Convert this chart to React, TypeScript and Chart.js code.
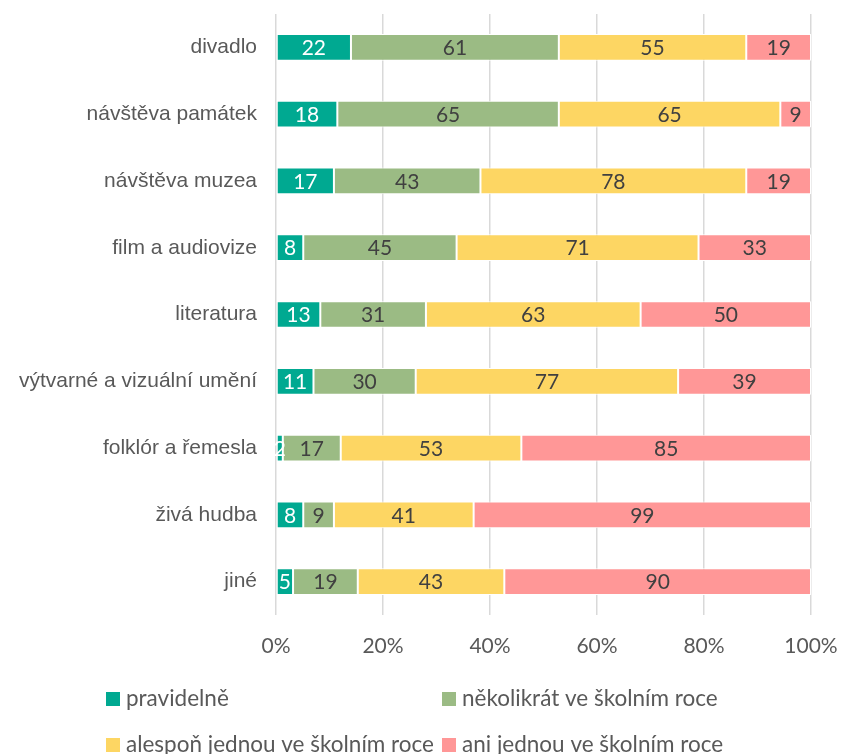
import React, { useEffect, useRef } from "react";
import { Chart, registerables } from "chart.js";

Chart.register(...registerables);

const categories = [
  "divadlo",
  "návštěva památek",
  "návštěva muzea",
  "film a audiovize",
  "literatura",
  "výtvarné a vizuální umění",
  "folklór a řemesla",
  "živá hudba",
  "jiné",
];

const seriesNames = [
  "pravidelně",
  "několikrát ve školním roce",
  "alespoň jednou ve školním roce",
  "ani jednou ve školním roce",
];

const pravidelne = [22, 18, 17, 8, 13, 11, 2, 8, 5];
const nekolikrat = [61, 65, 43, 45, 31, 30, 17, 9, 19];
const alesponJednou = [55, 65, 78, 71, 63, 77, 53, 41, 43];
const aniJednou = [19, 9, 19, 33, 50, 39, 85, 99, 90];

const xTicks = [0, 20, 40, 60, 80, 100];

const colors = ["#00A991", "#9BBB84", "#FDD663", "#FF9797"];
const labelColors = ["#FFFFFF", "#404040", "#404040", "#404040"];

const NUM_FONT = "Lato, 'Open Sans', sans-serif";
const CAT_FONT = "'Liberation Sans', Arial, sans-serif";

export default function App() {
  const ref = useRef<HTMLCanvasElement | null>(null);

  useEffect(() => {
    if (!ref.current) return;
    const raw = [pravidelne, nekolikrat, alesponJednou, aniJednou];
    const totals = categories.map((_, i) => raw.reduce((s, arr) => s + arr[i], 0));
    const pct = raw.map((arr) => arr.map((v, i) => (v / totals[i]) * 100));

    const dataLabelPlugin = {
      id: "dataLabels",
      afterDatasetsDraw(chart: any) {
        const ctx = chart.ctx;
        ctx.save();
        ctx.font = `21px ${NUM_FONT}`;
        ctx.textAlign = "center";
        ctx.textBaseline = "middle";
        chart.data.datasets.forEach((ds: any, di: number) => {
          const meta = chart.getDatasetMeta(di);
          meta.data.forEach((el: any, i: number) => {
            const p = el.getCenterPoint();
            ctx.fillStyle = labelColors[di];
            ctx.fillText(String(raw[di][i]), p.x, p.y + 1);
          });
        });
        ctx.restore();
      },
    };

    const legendPlugin = {
      id: "customLegend",
      afterDraw(chart: any) {
        const ctx = chart.ctx;
        ctx.save();
        ctx.font = `22.5px ${NUM_FONT}`;
        ctx.textAlign = "left";
        ctx.textBaseline = "middle";
        const cols = [106, 442];
        const rows = [699, 745];
        seriesNames.forEach((name, i) => {
          const x = cols[i % 2];
          const y = rows[Math.floor(i / 2)];
          ctx.fillStyle = colors[i];
          ctx.fillRect(x, y - 7, 14, 14);
          ctx.fillStyle = "#595959";
          ctx.fillText(name, x + 20, y);
        });
        ctx.restore();
      },
    };

    const chart = new Chart(ref.current, {
      type: "bar",
      data: {
        labels: categories,
        datasets: seriesNames.map((name, i) => ({
          label: name,
          data: pct[i],
          backgroundColor: colors[i],
          borderColor: "#FFFFFF",
          borderWidth: 1,
          borderSkipped: false,
          categoryPercentage: 1,
          barPercentage: 0.4,
        })),
      },
      options: {
        indexAxis: "y",
        responsive: false,
        animation: false,
        layout: { padding: { top: 14, right: 30, bottom: 0, left: 0 } },
        plugins: {
          legend: { display: false },
          tooltip: { enabled: false },
        },
        scales: {
          x: {
            stacked: true,
            min: 0,
            max: 100,
            afterBuildTicks(scale: any) {
              scale.ticks = xTicks.map((v) => ({ value: v }));
            },
            afterFit(scale: any) {
              scale.height = 139;
              scale.paddingLeft = 0;
              scale.paddingRight = 0;
            },
            grid: {
              color: "#D9D9D9",
              lineWidth: 1.5,
              drawTicks: false,
            },
            border: { display: false },
            ticks: {
              padding: 19,
              color: "#595959",
              font: { family: NUM_FONT, size: 21 },
              callback: (v: any) => `${v}%`,
            },
          },
          y: {
            stacked: true,
            afterFit(scale: any) {
              scale.width = 276;
              scale.paddingTop = 0;
              scale.paddingBottom = 0;
            },
            grid: { display: false, drawTicks: false },
            border: { display: false },
            ticks: {
              padding: 19,
              color: "#595959",
              font: { family: CAT_FONT, size: 21 },
            },
          },
        },
      },
      plugins: [dataLabelPlugin, legendPlugin],
    } as any);

    return () => chart.destroy();
  }, []);

  return (
    <div style={{ position: "absolute", left: 0, top: 0, width: 841, height: 754, background: "#fff" }}>
      <canvas ref={ref} width={841} height={754} />
    </div>
  );
}
